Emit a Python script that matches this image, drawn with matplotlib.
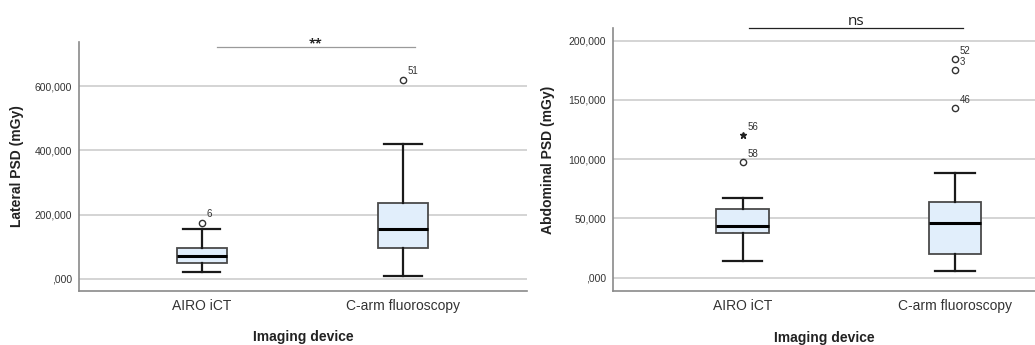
import matplotlib
matplotlib.use("Agg")
import matplotlib.pyplot as plt

plt.rcParams['font.family'] = ['Liberation Sans', 'DejaVu Sans']

categories = ["AIRO iCT", "C-arm fluoroscopy"]

# Lateral PSD (mGy): whisker low, Q1, median, Q3, whisker high
lat_whislo = [21000, 8000]
lat_q1 = [51000, 97000]
lat_med = [71000, 155000]
lat_q3 = [95000, 236000]
lat_whishi = [154000, 421000]
lat_outliers = [[175000], [620000]]
lat_outlier_ids = [["6"], ["51"]]
lat_ticks = [0, 200000, 400000, 600000]
lat_ticklabels = [",000", "200,000", "400,000", "600,000"]

# Abdominal PSD (mGy)
abd_whislo = [14000, 5600]
abd_q1 = [38000, 20000]
abd_med = [44000, 46000]
abd_q3 = [58000, 64000]
abd_whishi = [67500, 88000]
abd_outliers = [[97400], [143000, 175000, 184500]]
abd_outlier_ids = [["58"], ["46", "3", "52"]]
abd_extremes = [[120000], []]
abd_extreme_ids = [["56"], []]
abd_ticks = [0, 50000, 100000, 150000, 200000]
abd_ticklabels = [",000", "50,000", "100,000", "150,000", "200,000"]

W, H = 1035, 345
fig = plt.figure(figsize=(W / 100, H / 100), dpi=100)

def px_axes(l, r, t, b):
    return fig.add_axes([l / W, (H - b) / H, (r - l) / W, (b - t) / H])

ax1 = px_axes(79, 527, 42, 291)
ax2 = px_axes(613, 1035, 28, 291)

def draw(ax, whislo, q1, med, q3, whishi, outl, outl_ids, ext, ext_ids,
         ticks, ticklabels, ylim, xlim, ylabel, widths, xlabelpad):
    stats = []
    for i in range(len(categories)):
        stats.append(dict(whislo=whislo[i], q1=q1[i], med=med[i], q3=q3[i],
                          whishi=whishi[i], fliers=[], label=categories[i]))
    pos = [1, 2]
    ax.bxp(stats, positions=pos, widths=widths, patch_artist=True,
           showfliers=False,
           boxprops=dict(facecolor="#e1eefb", edgecolor="#4a4a4a", linewidth=1.3),
           medianprops=dict(color="black", linewidth=2.2),
           whiskerprops=dict(color="#1a1a1a", linewidth=1.6),
           capprops=dict(color="#1a1a1a", linewidth=1.6), capwidths=widths * 0.75)
    for i, p in enumerate(pos):
        for v, lab in zip(outl[i], outl_ids[i]):
            ax.plot(p, v, marker="o", ms=4.5, mfc="white", mec="#333333", mew=1.0,
                    linestyle="none", zorder=4)
            ax.annotate(lab, (p, v), xytext=(3.5, 2.5), textcoords="offset points",
                        fontsize=7, color="#333333", va="bottom", ha="left")
        if ext:
            for v, lab in zip(ext[i], ext_ids[i]):
                ax.plot(p, v, marker="*", ms=5, color="#222222",
                        linestyle="none", zorder=4)
                ax.annotate(lab, (p, v), xytext=(3.5, 2.5), textcoords="offset points",
                            fontsize=7, color="#333333", va="bottom", ha="left")
    ax.set_xlim(*xlim)
    ax.set_ylim(*ylim)
    ax.set_yticks(ticks)
    ax.set_yticklabels(ticklabels, fontsize=7.5, color="#333333")
    ax.set_xticks(pos)
    ax.set_xticklabels(categories, fontsize=10, color="#333333")
    ax.tick_params(axis="y", length=0, pad=5)
    ax.tick_params(axis="x", length=0, pad=6)
    ax.grid(axis="y", color="#d4d4d4", linewidth=1.4)
    ax.set_axisbelow(True)
    for s in ["top", "right"]:
        ax.spines[s].set_visible(False)
    for s in ["left", "bottom"]:
        ax.spines[s].set_color("#8a8a8a")
        ax.spines[s].set_linewidth(1.2)
    ax.set_ylabel(ylabel, fontsize=10, fontweight="bold", color="#222222")
    ax.set_xlabel("Imaging device", fontsize=10, fontweight="bold",
                  color="#222222", labelpad=xlabelpad)

draw(ax1, lat_whislo, lat_q1, lat_med, lat_q3, lat_whishi, lat_outliers,
     lat_outlier_ids, None, None, lat_ticks, lat_ticklabels,
     (-37500, 737500), (0.39, 2.616), "Lateral PSD (mGy)", 0.248, 12)
draw(ax2, abd_whislo, abd_q1, abd_med, abd_q3, abd_whishi, abd_outliers,
     abd_outlier_ids, abd_extremes, abd_extreme_ids, abd_ticks, abd_ticklabels,
     (-11200, 210700), (0.389, 2.377), "Abdominal PSD (mGy)", 0.247, 13)

ax1.yaxis.set_label_coords(-0.123, 0.5)
ax2.yaxis.set_label_coords(-0.137, 0.5)

# significance bars
def sig(ax, x0, x1, y, text, color, fs, weight, dy):
    ax.plot([x0, x1], [y, y], color=color, linewidth=0.9, clip_on=False)
    ax.annotate(text, ((x0 + x1) / 2, y), xytext=(0, dy),
                textcoords="offset points", ha="center", va="bottom",
                fontsize=fs, fontweight=weight,
                family=["Open Sans", "DejaVu Sans"], color="#222222")

sig(ax1, 1.074, 2.059, 723000, "**", "#9a9a9a", 9, "bold", -3)
sig(ax2, 1.03, 2.036, 211000, "ns", "#222222", 11, "normal", -1)

fig.savefig("out.png", dpi=100)
